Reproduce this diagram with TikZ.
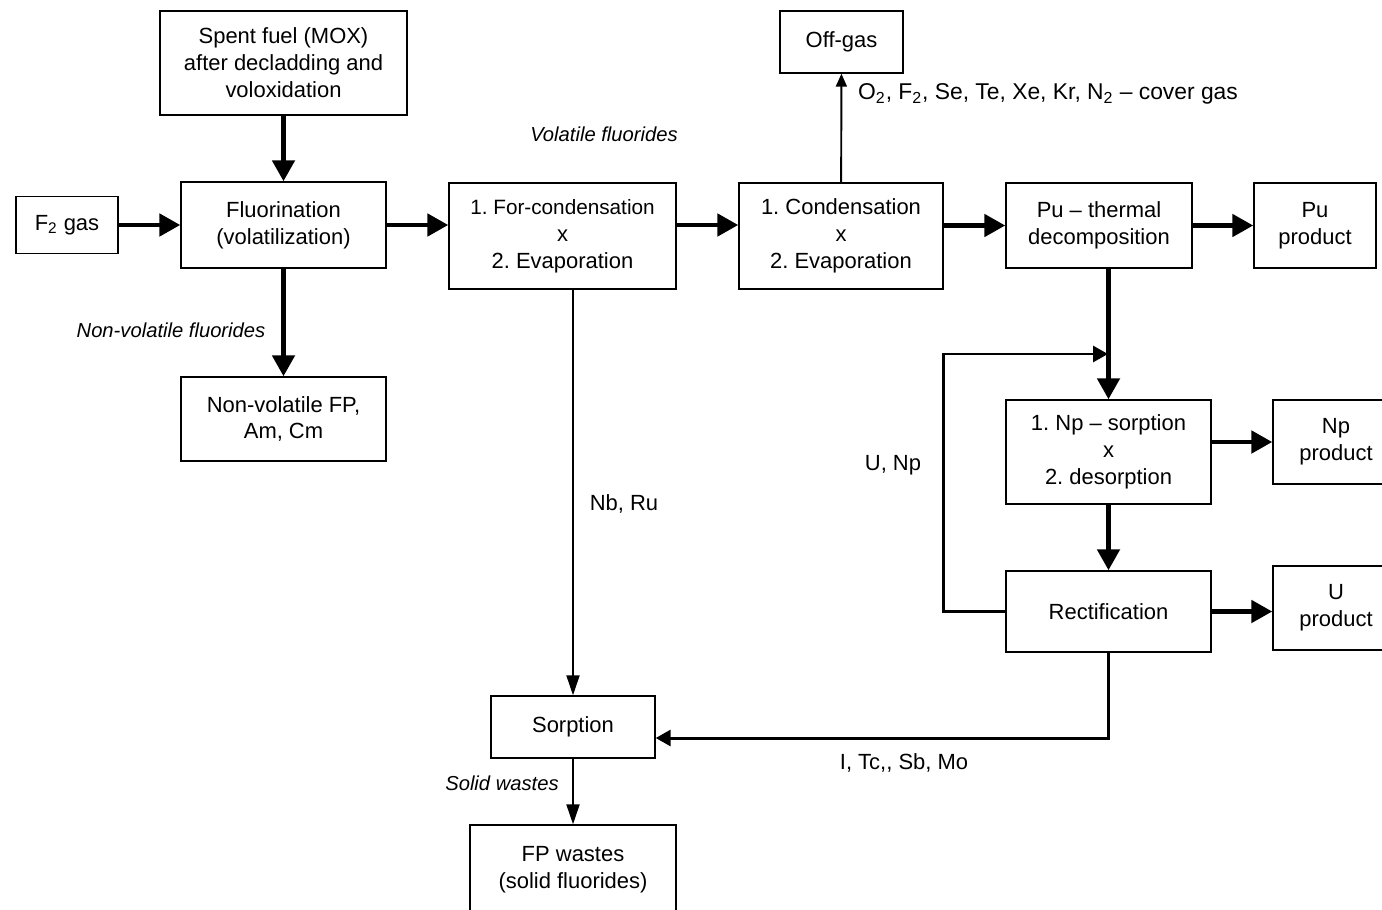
\documentclass[tikz,border=0pt]{standalone}
\usepackage{fontspec}
\setmainfont{Liberation Sans}
\usetikzlibrary{arrows.meta,calc}
\frenchspacing

\begin{document}
\begin{tikzpicture}[x=0.02cm,y=-0.02cm,
  every node/.style={font=\fontsize{12.5}{15.3}\selectfont},
  bx/.style={draw=black,line width=0.8pt,align=center,inner sep=2pt},
  lbl/.style={font=\fontsize{11.5}{14}\selectfont\itshape},
  ar/.style={-{Triangle[length=0.42cm,width=0.44cm]},line width=2.8pt},
  mar/.style={-{Triangle[length=0.3cm,width=0.32cm]},line width=1.7pt},
  tar/.style={-{Triangle[length=0.4cm,width=0.26cm]},line width=1.1pt}]
\useasboundingbox (0,0) rectangle (1382,909);
\node[bx,minimum width=4.94cm,minimum height=2.08cm] (spent) at (283.5,63) {Spent fuel (MOX)\\after decladding and\\voloxidation};
\node[bx,minimum width=2.04cm,minimum height=1.14cm] (ftwo) at (67,225) {F\textsubscript{2} gas};
\node[bx,minimum width=4.10cm,minimum height=1.72cm] (fluor) at (283.5,225) {Fluorination\\(volatilization)};
\node[bx,minimum width=4.54cm,minimum height=2.12cm] (forcond) at (562.5,236) {\fontsize{11.8}{12.5}\selectfont 1. For-condensation\\x\\2. Evaporation};
\node[bx,minimum width=4.08cm,minimum height=2.12cm] (cond) at (841,236) {1. Condensation\\x\\2. Evaporation};
\node[bx,minimum width=2.46cm,minimum height=1.24cm] (offgas) at (841.5,42) {Off-gas};
\node[bx,minimum width=3.72cm,minimum height=1.70cm] (pu) at (1099,225.5) {Pu -- thermal\\decomposition};
\node[bx,minimum width=2.44cm,minimum height=1.70cm] (puprod) at (1315,225.5) {Pu\\product};
\node[bx,minimum width=4.10cm,minimum height=1.68cm] (nonvol) at (283.5,419) {Non-volatile FP,\\Am, Cm};
\node[bx,minimum width=4.10cm,minimum height=2.08cm] (npsorp) at (1108.5,452) {1. Np -- sorption\\x\\2. desorption};
\node[bx,minimum width=2.52cm,minimum height=1.68cm] (npprod) at (1336,442) {Np\\product};
\node[bx,minimum width=4.10cm,minimum height=1.62cm] (rect) at (1108.5,611.5) {Rectification};
\node[bx,minimum width=2.52cm,minimum height=1.68cm] (uprod) at (1336,608) {U\\product};
\node[bx,minimum width=3.28cm,minimum height=1.24cm] (sorp) at (573,727) {Sorption};
\node[bx,minimum width=4.12cm,minimum height=1.80cm] (fpw) at (573,870) {FP wastes\\(solid fluorides)};
% labels
\node[lbl] (volf) at (604,134) {Volatile fluorides};
\node[lbl] (nvolf) at (171,330) {Non-volatile fluorides};
\node[lbl] (solw) at (502,783) {Solid wastes};
\node[anchor=west,font=\fontsize{13}{15}\selectfont] (gases) at (852,94) {O\textsubscript{2}, F\textsubscript{2}, Se, Te, Xe, Kr, N\textsubscript{2} -- cover gas};
\node (unp) at (893,465) {U, Np};
\node (nbru) at (624,504) {Nb, Ru};
\node (itc) at (904,763) {I, Tc,{}, Sb, Mo};
\coordinate (fbin) at (1108,354);
% connectors
\draw[ar] (spent) -- (fluor);
\draw[ar] (ftwo) -- (fluor);
\draw[ar] (fluor.east) -- (fluor.east -| forcond.west);
\draw[ar] (forcond.east |- fluor.east) -- (cond.west |- fluor.east);
\draw[ar] (cond.east |- pu.west) -- (pu.west);
\draw[ar] (pu) -- (puprod);
\draw[ar] (fluor) -- (nonvol);
\draw[tar,-{Triangle[length=0.26cm,width=0.22cm]}] (cond) -- (offgas);
\draw[ar] (pu.south -| npsorp.north) -- (npsorp.north);
\draw[ar] (npsorp.east |- npprod.west) -- (npprod.west);
\draw[ar] (npsorp) -- (rect);
\draw[ar] (rect.east) -- (rect.east -| uprod.west);
\draw[mar] (rect.west) -- ++(-62,0) |- (fbin);
\draw[mar] (rect.south) |- ($(sorp.east)+(0,11)$);
\draw[tar] (forcond.south -| sorp.north) -- (sorp.north);
\draw[tar] (sorp) -- (fpw);
\end{tikzpicture}
\end{document}
